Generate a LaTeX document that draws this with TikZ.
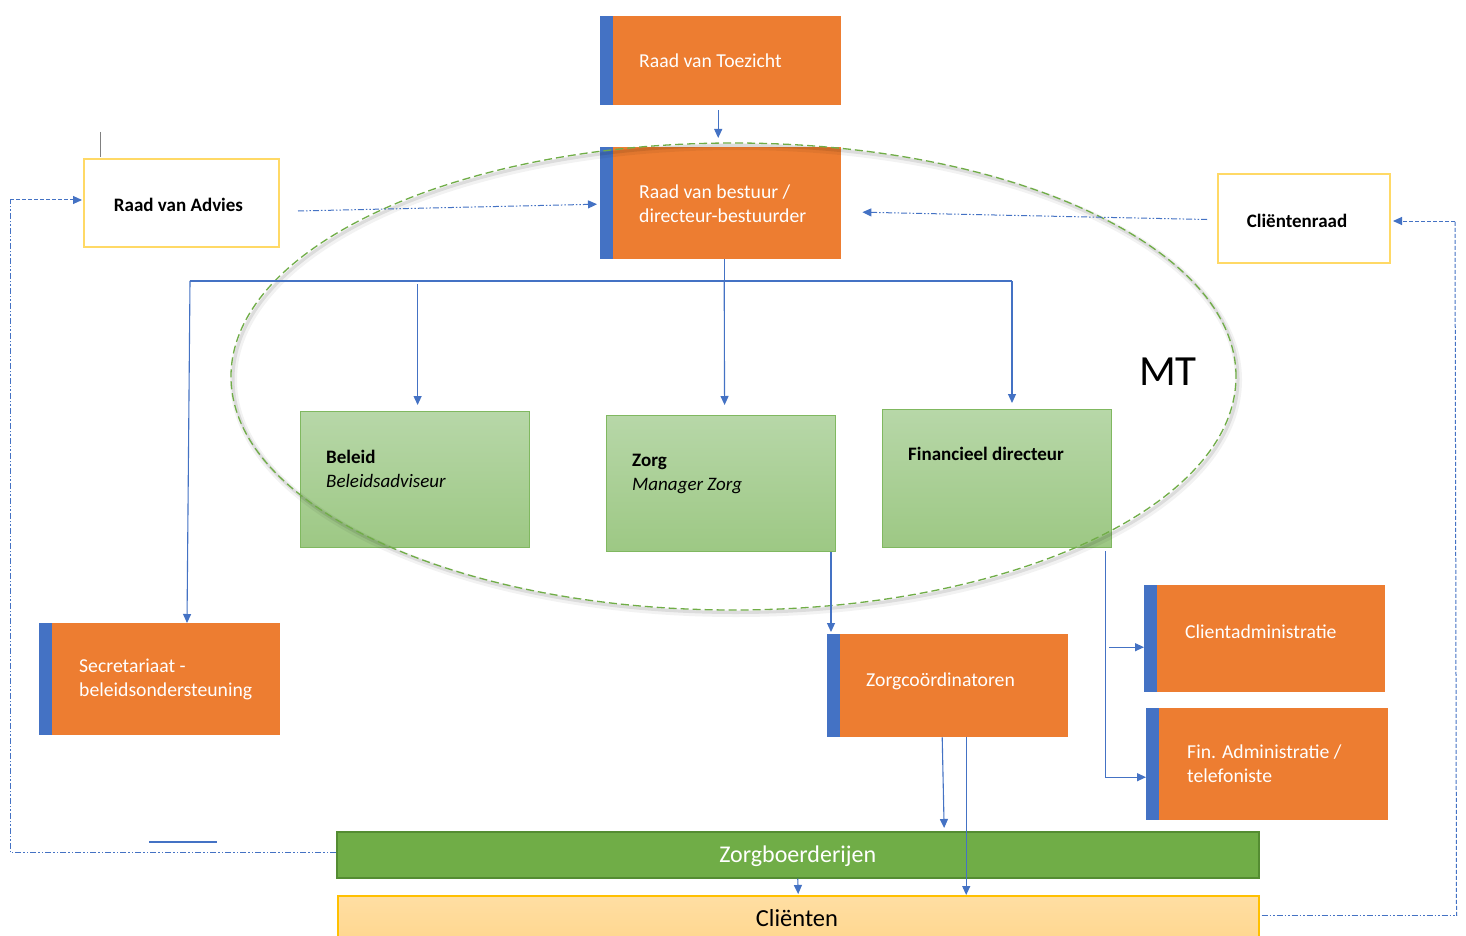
\documentclass[tikz,border=0pt]{standalone}
\usepackage{fontspec}
\setmainfont{Carlito}
\usetikzlibrary{arrows.meta,calc,shapes.geometric}
\definecolor{orng}{RGB}{237,125,49}
\definecolor{stripe}{RGB}{68,114,196}
\definecolor{lblue}{RGB}{68,114,196}
\definecolor{gtop}{RGB}{183,215,168}
\definecolor{gbot}{RGB}{157,200,132}
\definecolor{gbord}{RGB}{128,184,96}
\definecolor{zbfill}{RGB}{112,173,71}
\definecolor{zbbord}{RGB}{84,140,50}
\definecolor{clfill}{RGB}{255,214,140}
\definecolor{clbord}{RGB}{255,192,0}
\definecolor{ybord}{RGB}{255,217,102}
\definecolor{mtgreen}{RGB}{112,173,71}
\tikzset{
  obox/.style={draw=none, fill=orng, anchor=north west, inner sep=0pt,
    path picture={\fill[stripe] (path picture bounding box.north west) rectangle ([xshift=13pt]path picture bounding box.south west);}},
  otext/.style={anchor=west, align=left, text=white, inner sep=0pt, font=\fontsize{19.7}{24}\selectfont},
  gbox/.style={draw=gbord, line width=1.2pt, top color=gtop, bottom color=gbot, anchor=north west, inner sep=0pt},
  gtext/.style={anchor=base west, align=left, inner sep=0pt, font=\fontsize{19}{24.5}\selectfont},
  ybox/.style={draw=ybord, line width=2pt, fill=white, anchor=north west, inner sep=0pt},
  ytext/.style={inner sep=0pt, font=\fontsize{19}{23}\selectfont\bfseries},
  conn/.style={draw=lblue, line width=1.1pt},
  arr/.style={conn, -{Triangle[length=9pt,width=8pt]}},
  dd/.style={draw=lblue, line width=1pt, dash pattern=on 6pt off 2pt on 1.5pt off 2pt on 1.5pt off 2pt},
  dsh/.style={draw=lblue, line width=1pt, dash pattern=on 4pt off 2pt},
}
\begin{document}
\begin{tikzpicture}[x=1pt,y=-1pt]
\fill[white] (0,0) rectangle (1466,936);
\useasboundingbox (0,0) rectangle (1466,936);

% orange boxes
\node[obox, minimum width=241pt, minimum height=89pt] (rvt) at (600,16) {};
\node[otext] (rvtT) at ([xshift=39pt]rvt.west) {Raad van Toezicht};
\node[obox, minimum width=241pt, minimum height=112pt] (rvb) at (600,147) {};
\node[otext] (rvbT) at ([xshift=39pt,yshift=-1pt]rvb.west) {Raad van bestuur /\\directeur-bestuurder};
\node[obox, minimum width=241pt, minimum height=112pt] (sec) at (39,623) {};
\node[otext] (secT) at ([xshift=40pt]sec.west) {Secretariaat -\\beleidsondersteuning};
\node[obox, minimum width=241pt, minimum height=103pt] (zco) at (827,634) {};
\node[otext] (zcoT) at ([xshift=39pt,yshift=4pt]zco.west) {Zorgcoördinatoren};
\node[obox, minimum width=241pt, minimum height=107pt] (ca) at (1144,585) {};
\node[otext] (caT) at ([xshift=41pt,yshift=7pt]ca.west) {Clientadministratie};
\node[obox, minimum width=242pt, minimum height=112pt] (fa) at (1146,708) {};
\node[otext] (faT) at ([xshift=41pt]fa.west) {Fin. Administratie /\\telefoniste};

% yellow boxes
\node[ybox, minimum width=195pt, minimum height=88pt] (rva) at (83,158) {};
\node[ytext] (rvaT) at ([xshift=-3pt,yshift=-2pt]rva.center) {Raad van Advies};
\node[ybox, minimum width=172pt, minimum height=89pt] (cr) at (1217,173) {};
\node[ytext] (crT) at ([xshift=-7pt,yshift=-2pt]cr.center) {Cliëntenraad};

% green boxes
\node[gbox, minimum width=229pt, minimum height=136pt] (bel) at (300,411) {};
\node[gtext] (belT) at ([xshift=26pt,yshift=-76.5pt]bel.north west) {\textbf{Beleid}\\\textit{Beleidsadviseur}};
\node[gbox, minimum width=229pt, minimum height=136pt] (zorg) at (606,415) {};
\node[gtext] (zorgT) at ([xshift=26pt,yshift=-75.5pt]zorg.north west) {\textbf{Zorg}\\\textit{Manager Zorg}};
\node[gbox, minimum width=229pt, minimum height=138pt] (fin) at (882,409) {};
\node[gtext] (finT) at ([xshift=26pt,yshift=-51pt]fin.north west) {\textbf{Financieel directeur}};

% MT ellipse with soft shadow, drawn over the boxes
\draw[black, opacity=0.05, line width=7pt] (736,380) ellipse [x radius=502.5pt, y radius=233.5pt];
\draw[black, opacity=0.09, line width=3pt] (735.5,379) ellipse [x radius=502.5pt, y radius=233.5pt];
\draw[mtgreen, line width=1.3pt, dash pattern=on 8pt off 4pt] (733.5,376.5) ellipse [x radius=502.5pt, y radius=233.5pt];
\node[inner sep=0pt, font=\fontsize{43}{50}\selectfont] (mt) at (1168,372) {MT};

% bottom bars
\node[draw=zbbord, line width=1.5pt, fill=zbfill, anchor=north west, inner sep=0pt, minimum width=922pt, minimum height=46pt] (zb) at (336,831) {};
\node[inner sep=0pt, text=white, font=\fontsize{24}{28}\selectfont] (zbT) at ([yshift=-1pt]zb.center) {Zorgboerderijen};
\node[draw=clbord, line width=1.5pt, top color=clfill!80!white, bottom color=clfill, anchor=north west, inner sep=0pt, minimum width=921pt, minimum height=52pt] (cl) at (337,895) {};
\node[inner sep=0pt, font=\fontsize{24.5}{28}\selectfont] (clT) at (797,918) {Cliënten};

% hierarchy connectors
\draw[arr, shorten <=5pt, shorten >=9pt] ([xshift=-2.5pt]rvt.south) -- ([xshift=-2.5pt]rvb.north);
\coordinate (busL) at (190,281);
\coordinate (busR) at (1012,281);
\coordinate (busM) at ([xshift=3.5pt]rvb.south |- busL);
\draw[conn] ([xshift=3.5pt]rvb.south) -- (busM);
\draw[conn] (busL) -- (busR);
\draw[arr] (busL) -- ([xshift=-3pt]busL |- sec.north);
\draw[arr, shorten >=6pt] ([xshift=2.5pt,yshift=-3pt]bel.north |- busL) -- ([xshift=2.5pt]bel.north);
\draw[arr, shorten >=10pt] (busM) -- ([xshift=3.5pt]zorg.north);
\draw[arr, shorten >=6pt] (busR) -- (busR |- fin.north);

% Zorg -> Zorgcoordinatoren
\coordinate (zcoIn) at ([xshift=4pt]zco.north west);
\draw[arr, shorten >=2pt] (zcoIn |- zorg.south) -- (zcoIn);

% Financieel -> administraties
\coordinate (fd) at ([xshift=-7pt,yshift=-3pt]fin.south east);
\draw[arr] (fd) |- ([yshift=-13pt]fa.west);
\draw[arr] ([xshift=4pt,yshift=-8.5pt]fd |- ca.west) -- ([yshift=-8.5pt]ca.west);

% Zorgcoordinatoren -> bottom
\draw[arr, shorten >=3pt] ([xshift=-5.5pt]zco.south) -- ([xshift=-3.5pt]zco.south |- zb.north);
\draw[arr] ([xshift=18.5pt]zco.south) -- ([xshift=18.5pt]zco.south |- cl.north);
\draw[arr, shorten >=1pt] (zb.south) -- (cl.north);

% advisory dash-dot connectors
\draw[dd, -{Triangle[length=9pt,width=8pt]}] ([xshift=18pt,yshift=-8pt]rva.east) -- ([xshift=-3pt,yshift=-1pt]rvb.west);
\draw[dd, -{Triangle[length=9pt,width=8pt]}] ([xshift=-10pt,yshift=-1pt]cr.west) -- ([xshift=21pt,yshift=-9pt]rvb.east);

% feedback loops
\coordinate (lc) at (10,200);
\draw[dd] ([yshift=2pt]zb.west) -| (lc);
\draw[dsh, -{Triangle[length=9pt,width=8pt]}] (lc) -- ([xshift=-1pt]lc -| rva.west);
\coordinate (rc) at (1455,221);
\draw[dd] ([xshift=2pt,yshift=6pt]cl.east) -- ++(195,0) coordinate (rb);
\draw[dsh] (rb) -- (rc);
\draw[dsh, -{Triangle[length=9pt,width=8pt]}] (rc) -- ([xshift=2pt]rc -| cr.east);

% stray marks
\coordinate (g1) at (100,132);
\coordinate (g2) at (100,157);
\draw[gray, line width=1pt] (g1) -- (g2);
\coordinate (s1) at (149,842);
\coordinate (s2) at (217,842);
\draw[lblue, line width=1.2pt] (s1) -- (s2);
\end{tikzpicture}
\end{document}
